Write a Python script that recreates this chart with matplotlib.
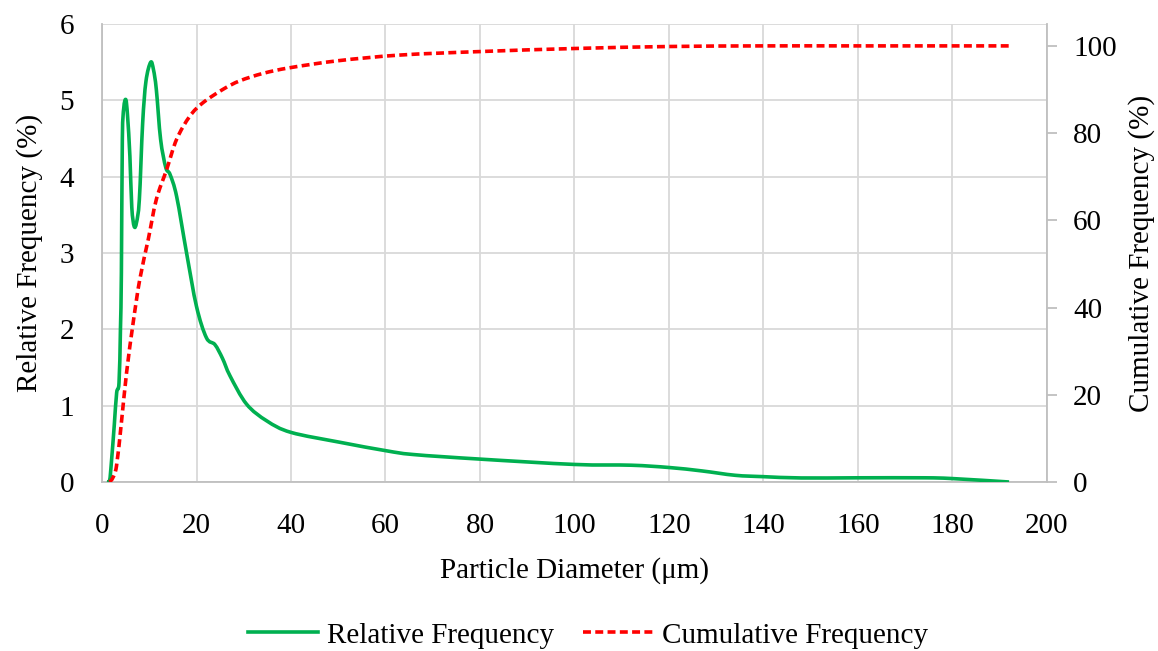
import matplotlib
matplotlib.use("Agg")
import matplotlib.pyplot as plt
from matplotlib.lines import Line2D
from matplotlib.path import Path
from matplotlib.patches import PathPatch

plt.rcParams['font.family'] = ['Liberation Serif', 'DejaVu Serif']

# Particle size distribution (diameter in µm)
rel_diameter = [1.0, 1.6, 2.0, 2.6, 3.1, 3.6, 3.9, 4.1, 4.3, 4.6, 5.04, 5.4, 5.9, 6.3, 6.8,
                7.3, 7.9, 8.6, 9.3, 10.3, 10.9, 11.5, 12.4, 13.5, 14.4, 15.8, 17.9, 20.0,
                22.1, 23.9, 25.5, 27.1, 30.6, 34.9, 40.0, 50.4, 60.1, 65.9, 80.0, 100.0,
                112.0, 120.0, 127.0, 134.0, 140.0, 148.0, 160.0, 174.0, 180.0, 192.0]
rel_freq = [0.0, 0.02, 0.27, 0.75, 1.17, 1.30, 2.0, 2.74, 4.49, 4.9, 5.01, 4.8, 4.27, 3.6, 3.35,
            3.4, 3.70, 4.70, 5.25, 5.50, 5.40, 5.14, 4.49, 4.12, 4.03, 3.74, 3.0, 2.30,
            1.89, 1.80, 1.62, 1.39, 1.02, 0.80, 0.65, 0.52, 0.41, 0.36, 0.30, 0.23,
            0.22, 0.19, 0.145, 0.088, 0.07, 0.053, 0.055, 0.055, 0.045, 0.0]

cum_diameter = [1.6, 2.3, 3.07, 4.1, 5.2, 6.6, 8.0, 9.8, 11.5, 13.7, 15.8, 18.6, 21.4, 25.7,
                29.2, 34.1, 39.8, 50.0, 63.1, 80.0, 100.0, 120.0, 140.0, 160.0, 192.0]
cum_freq = [0.0, 1.0, 3.7, 13.6, 25.1, 36.6, 46.5, 55.7, 64.8, 71.7, 78.6, 83.9, 87.0, 90.1,
            92.0, 93.7, 95.0, 96.6, 97.9, 98.7, 99.4, 99.86, 100.0, 100.0, 100.0]

x_ticks = list(range(0, 201, 20))
left_ticks = list(range(0, 7))
right_ticks = list(range(0, 101, 20))

green = '#00B050'
red = '#FF0000'
grid_c = '#D9D9D9'
spine_c = '#BFBFBF'
fs = 21
dash = (0, (2.2, 1.2))


def smooth_path(xs, ys):
    """Catmull-Rom style smoothed path through the given points (cubic Bezier segments)."""
    pts = list(zip(xs, ys))
    verts = [pts[0]]
    codes = [Path.MOVETO]
    n = len(pts)
    for i in range(n - 1):
        p0 = pts[i - 1] if i > 0 else pts[i]
        p1 = pts[i]
        p2 = pts[i + 1]
        p3 = pts[i + 2] if i + 2 < n else pts[i + 1]
        c1 = (p1[0] + (p2[0] - p0[0]) / 6.0, p1[1] + (p2[1] - p0[1]) / 6.0)
        c2 = (p2[0] - (p3[0] - p1[0]) / 6.0, p2[1] - (p3[1] - p1[1]) / 6.0)
        verts += [c1, c2, p2]
        codes += [Path.CURVE4] * 3
    return Path(verts, codes)


fig = plt.figure(figsize=(11.58, 6.51), dpi=100)
ax = fig.add_axes([0.0881, 0.2596, 0.904 - 0.0881, 0.963 - 0.2596])
ax2 = ax.twinx()

ax.add_patch(PathPatch(smooth_path(rel_diameter, rel_freq), fill=False,
                       edgecolor=green, lw=2.6, joinstyle='round', zorder=3))
ax2.add_patch(PathPatch(smooth_path(cum_diameter, cum_freq), fill=False,
                        edgecolor=red, lw=2.6, ls=dash, zorder=3))

ax.set_xlim(0, 200)
ax.set_ylim(0, 6)
ax2.set_ylim(0, 105)
ax.set_xticks(x_ticks)
ax.set_yticks(left_ticks)
ax2.set_yticks(right_ticks)

ax.grid(True, color=grid_c, lw=1.3)
ax.set_axisbelow(True)

for a in (ax, ax2):
    for s in a.spines.values():
        s.set_visible(False)
ax.spines['left'].set_visible(True)
ax.spines['bottom'].set_visible(True)
ax2.spines['right'].set_visible(True)
for s in (ax.spines['left'], ax.spines['bottom'], ax2.spines['right']):
    s.set_color(spine_c)
    s.set_linewidth(1.3)

ax.tick_params(axis='both', length=0, labelsize=fs)
ax.tick_params(axis='y', pad=20)
ax.tick_params(axis='x', pad=22)
ax2.tick_params(axis='y', length=7, width=1.3, color=spine_c, labelsize=fs, pad=12, direction='out')

ax.set_xlabel('Particle Diameter (μm)', fontsize=fs, labelpad=13)
ax.set_ylabel('Relative Frequency (%)', fontsize=fs, labelpad=12)
ax2.set_ylabel('Cumulative Frequency (%)', fontsize=fs, labelpad=8)

handles = [Line2D([], [], color=green, lw=2.6),
           Line2D([], [], color=red, lw=2.6, ls=dash)]
fig.legend(handles, ['Relative Frequency', 'Cumulative Frequency'],
           loc='center', bbox_to_anchor=(0.508, 0.024), ncol=2, frameon=False,
           fontsize=fs, handlelength=2.4, handletextpad=0.3, columnspacing=1.0)

fig.savefig('out.png', dpi=100)
